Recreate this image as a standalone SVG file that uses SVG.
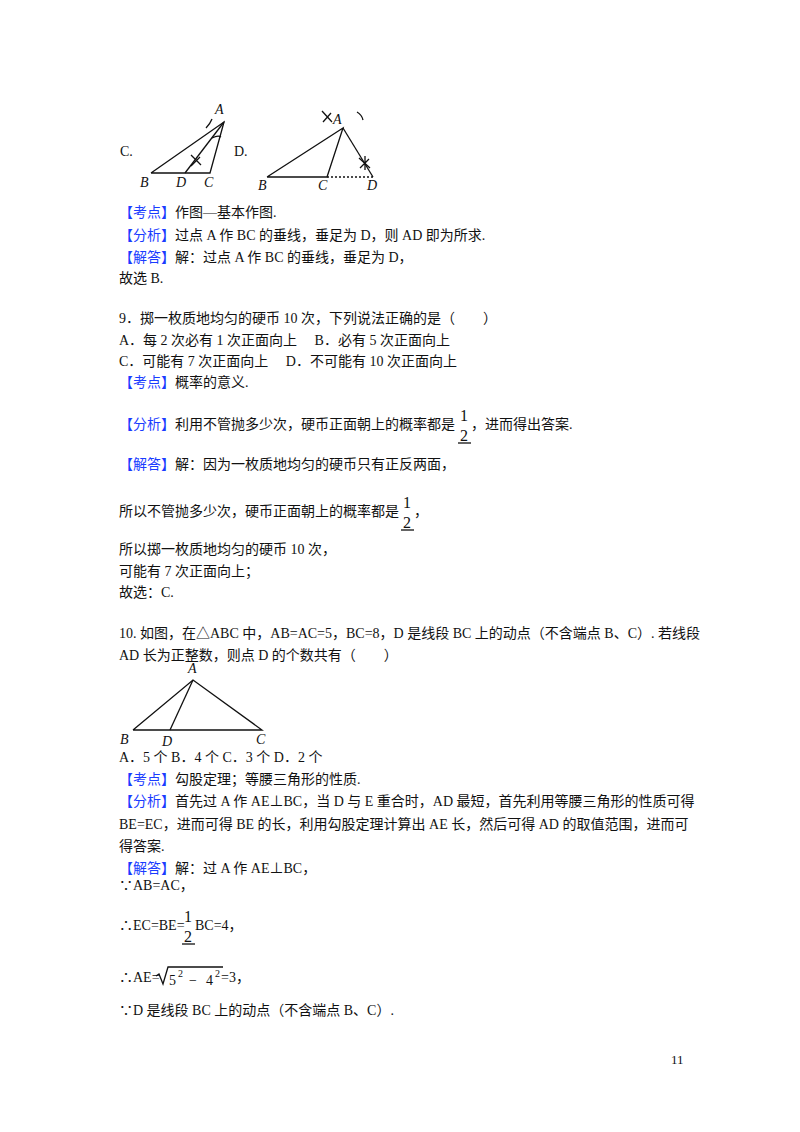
<svg xmlns="http://www.w3.org/2000/svg" width="800" height="1132" viewBox="0 0 800 1132">
<style>
text{font-family:"Liberation Serif","Noto Sans CJK SC",serif;font-size:14px;fill:#111}
.b{fill:#1a3cff}
.l{font-style:italic;font-size:14px}
.s{font-size:10px}
.f{font-size:16px}
line,path,polyline{stroke:#111;stroke-width:1.3;fill:none}
</style>
<rect width="800" height="1132" fill="#fff"/>
<g id="figC">
<text x="120" y="156">C.</text>
<polyline points="151,173 224,122 210,173 151,173"/>
<line x1="224" y1="122" x2="185" y2="173"/>
<path d="M206,128 q4,-4 6,-9"/><path d="M212,138 q6,-3 9,-1"/>
<path d="M191,155 l10,10 M191,166 l9,-9"/>
<text class="l" x="215" y="114">A</text><text class="l" x="140" y="187">B</text><text class="l" x="176" y="187">D</text><text class="l" x="204" y="187">C</text>
</g>
<g id="figD">
<text x="234" y="156">D.</text>
<polyline points="267,177 343,128 327,177 267,177"/>
<line x1="343" y1="128" x2="373" y2="177"/>
<line x1="327" y1="177" x2="373" y2="177" stroke-dasharray="2,2"/>
<path d="M357,112 q5,3 6,8"/>
<path d="M322,111 l10,11 M323,122 l8,-9"/>
<path d="M359,158 l11,10 M360,168 l9,-9 M365,156 v14"/>
<text class="l" x="333" y="124">A</text><text class="l" x="258" y="190">B</text><text class="l" x="318" y="190">C</text><text class="l" x="367" y="190">D</text>
</g>
<g id="text">
<text x="119" y="217"><tspan class="b">【考点】</tspan>作图—基本作图.</text>
<text x="119" y="240"><tspan class="b">【分析】</tspan>过点 A 作 BC 的垂线，垂足为 D，则 AD 即为所求.</text>
<text x="119" y="262"><tspan class="b">【解答】</tspan>解：过点 A 作 BC 的垂线，垂足为 D，</text>
<text x="119" y="283">故选 B.</text>
<text x="119" y="323">9．掷一枚质地均匀的硬币 10 次，下列说法正确的是（　　）</text>
<text x="119" y="345">A．每 2 次必有 1 次正面向上　 B．必有 5 次正面向上</text>
<text x="119" y="366">C．可能有 7 次正面向上　 D．不可能有 10 次正面向上</text>
<text x="119" y="387"><tspan class="b">【考点】</tspan>概率的意义.</text>
<text x="119" y="429"><tspan class="b">【分析】</tspan>利用不管抛多少次，硬币正面朝上的概率都是</text>
<text class="f" x="460" y="421">1</text><text class="f" x="460" y="441">2</text><line x1="458" y1="443" x2="471" y2="443" stroke-width="1"/>
<text x="471" y="429">，进而得出答案.</text>
<text x="119" y="469"><tspan class="b">【解答】</tspan>解：因为一枚质地均匀的硬币只有正反两面，</text>
<text x="119" y="516">所以不管抛多少次，硬币正面朝上的概率都是</text>
<text class="f" x="403" y="508">1</text><text class="f" x="403" y="528">2</text><line x1="401" y1="530" x2="414" y2="530" stroke-width="1"/>
<text x="414" y="516">，</text>
<text x="119" y="554">所以掷一枚质地均匀的硬币 10 次，</text>
<text x="119" y="576">可能有 7 次正面向上；</text>
<text x="119" y="597">故选：C.</text>
<text x="119" y="638">10. 如图，在△ABC 中，AB=AC=5，BC=8，D 是线段 BC 上的动点（不含端点 B、C）. 若线段</text>
<text x="119" y="660">AD 长为正整数，则点 D 的个数共有（　　）</text>
<text x="119" y="762">A．5 个 B．4 个 C．3 个 D．2 个</text>
<text x="119" y="784"><tspan class="b">【考点】</tspan>勾股定理；等腰三角形的性质.</text>
<text x="119" y="806"><tspan class="b">【分析】</tspan>首先过 A 作 AE⊥BC，当 D 与 E 重合时，AD 最短，首先利用等腰三角形的性质可得</text>
<text x="119" y="829">BE=EC，进而可得 BE 的长，利用勾股定理计算出 AE 长，然后可得 AD 的取值范围，进而可</text>
<text x="119" y="851">得答案.</text>
<text x="119" y="873"><tspan class="b">【解答】</tspan>解：过 A 作 AE⊥BC，</text>
<text x="119" y="890">∵AB=AC，</text>
<text x="119" y="930">∴EC=BE=</text>
<text class="f" x="184" y="922">1</text><text class="f" x="184" y="942">2</text><line x1="182" y1="944" x2="195" y2="944" stroke-width="1"/>
<text x="195" y="930">BC=4，</text>
<text x="119" y="982">∴AE=</text>
<path d="M156,976 l3,-2 l4,10 l5,-17 h55" stroke-width="1"/>
<text x="169" y="985">5</text><text class="s" x="178" y="977">2</text><text x="189" y="985">−</text><text x="206" y="985">4</text><text class="s" x="215" y="977">2</text>
<text x="221" y="982">=3，</text>
<text x="119" y="1015">∵D 是线段 BC 上的动点（不含端点 B、C）.</text>
<text x="671" y="1064" style="font-size:13px">11</text>
</g>
<g id="fig10">
<polyline points="133,730 193,680 262,730 133,730"/>
<line x1="193" y1="680" x2="170" y2="730"/>
<text class="l" x="188" y="673">A</text><text class="l" x="120" y="744">B</text><text class="l" x="162" y="746">D</text><text class="l" x="256" y="744">C</text>
</g>
</svg>
